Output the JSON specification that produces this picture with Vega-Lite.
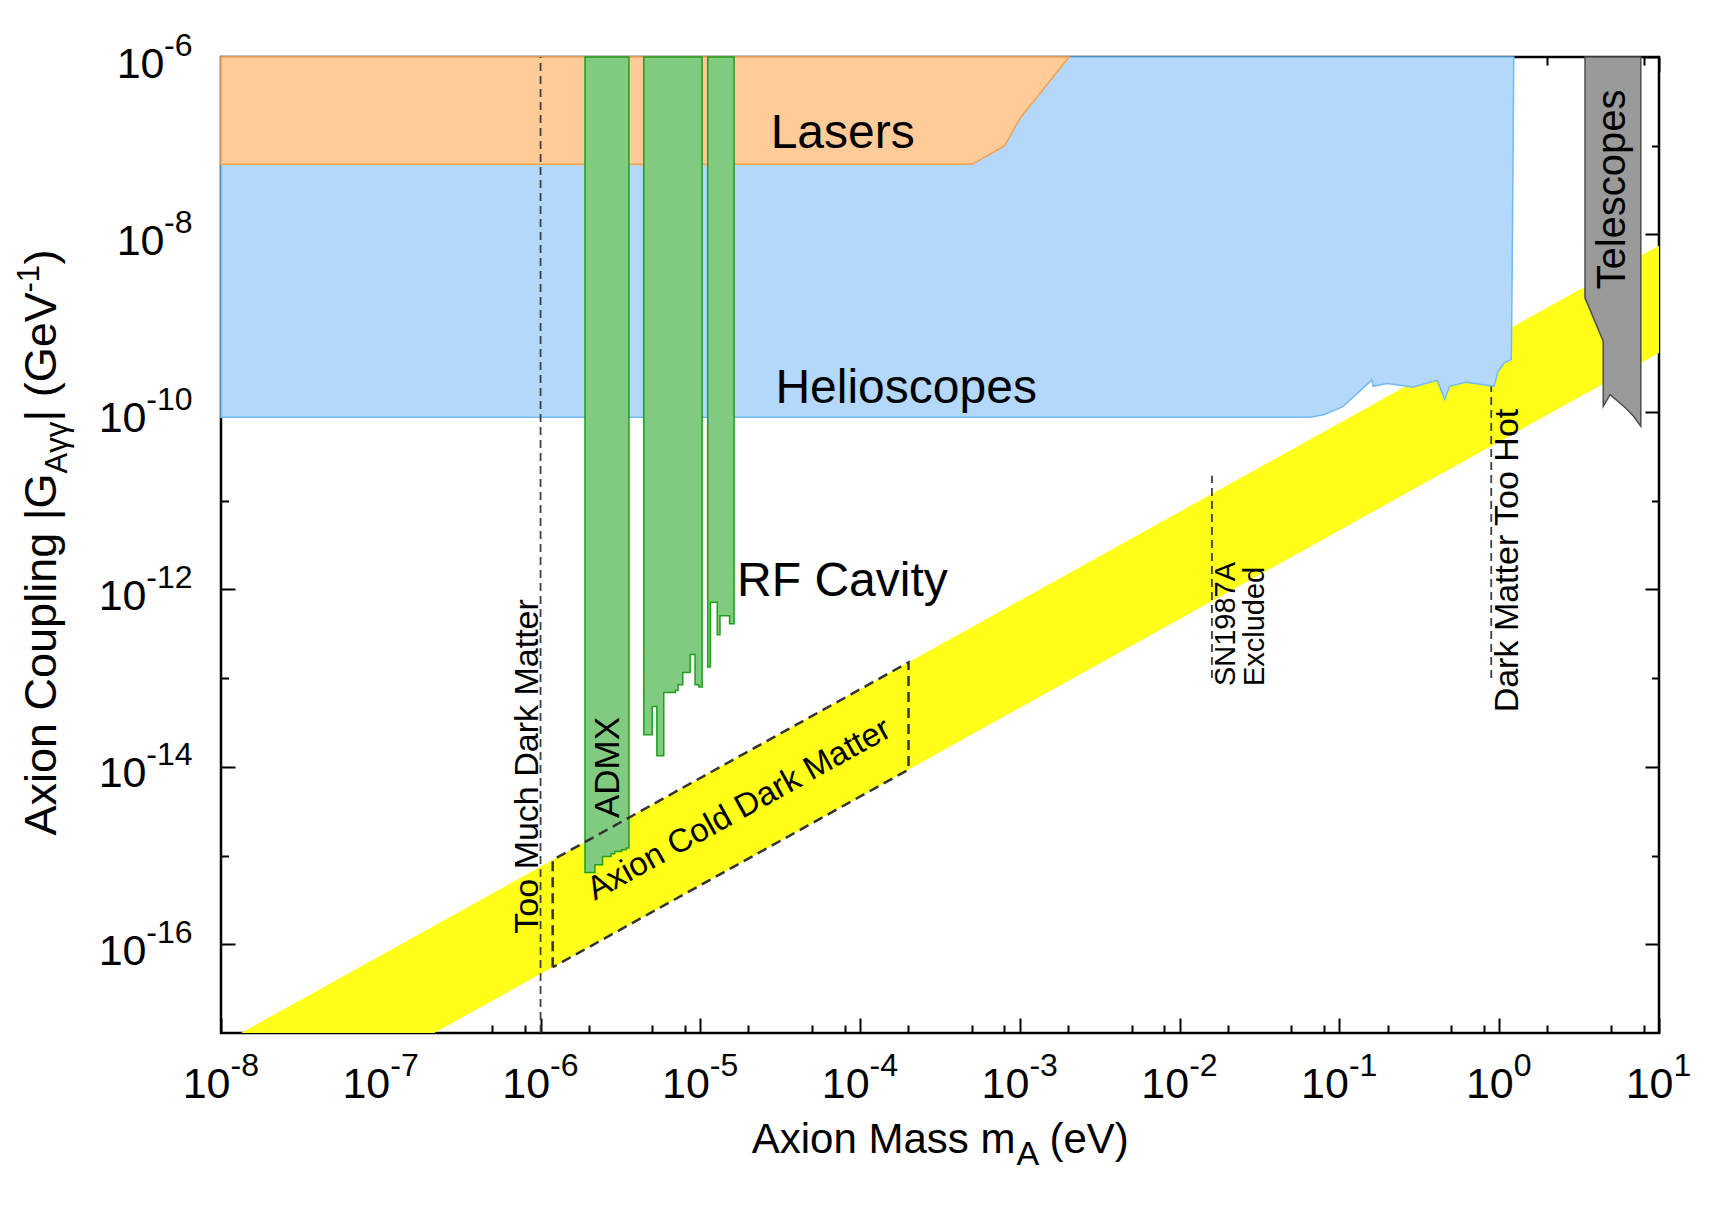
{
  "$schema": "https://vega.github.io/schema/vega-lite/v6.json",
  "width": 1438,
  "height": 976,
  "autosize": {"type": "none"},
  "padding": {"left": 221, "top": 57, "right": 75, "bottom": 179},
  "background": "white",
  "config": {
    "view": {"stroke": "black", "strokeWidth": 2.5},
    "font": "Liberation Sans",
    "axis": {
      "domain": false, "grid": false, "tickColor": "black", "tickWidth": 2,
      "labelColor": "black", "titleColor": "black", "labelFont": "Liberation Sans",
      "titleFont": "Liberation Sans", "titleFontWeight": "normal",
      "labelFlush": false, "labelOverlap": false, "labelBound": false
    }
  },
  "resolve": {"axis": {"x": "independent", "y": "independent"}},
  "layer": [
    {
      "data": {"values": [
        {"m": 1e-8, "lo": 4.624e-19, "hi": 7.482e-18},
        {"m": 10, "lo": 4.624e-10, "hi": 7.482e-9}
      ]},
      "mark": {"type": "area", "color": "#ffff1a", "opacity": 1, "clip": true},
      "encoding": {
        "x": {"field": "m", "type": "quantitative", "scale": {"type": "log", "domain": [1e-8, 10], "nice": false},
          "axis": {"orient": "bottom", "values": [1e-8,1e-7,1e-6,1e-5,1e-4,1e-3,0.01,0.1,1,10], "ticks": false,
            "labelExpr": "'10'", "labelFontSize": 43, "labelAlign": "right", "labelBaseline": "alphabetic",
            "labelPadding": 64,
            "labelOffset": {"condition": {"test": "datum.value > 0.5", "value": 14}, "value": 9},
            "title": "Axion Mass m", "titleFontSize": 42, "titleAlign": "right", "titleBaseline": "alphabetic",
            "titleX": 794, "titleY": 119}},
        "y": {"field": "lo", "type": "quantitative", "scale": {"type": "log", "domain": [1e-17, 1e-6], "nice": false},
          "axis": {"orient": "left", "values": [1e-16,1e-14,1e-12,1e-10,1e-8,1e-6], "ticks": false,
            "labelExpr": "'10'", "labelFontSize": 43, "labelAlign": "right", "labelBaseline": "alphabetic",
            "labelPadding": {"condition": {"test": "datum.value < 5e-10", "value": 75}, "value": 57},
            "labelOffset": 20,
            "title": "Axion Coupling |G", "titleFontSize": 45, "titleAngle": 270, "titleAlign": "left",
            "titleBaseline": "alphabetic", "titleX": -166, "titleY": 778}},
        "y2": {"field": "hi"}
      }
    },
    {
      "data": {"values": [
        {"m": 1e-8, "lo": 8.7e-11},
        {"m": 0.06561, "lo": 8.7e-11},
        {"m": 0.08035, "lo": 9.333e-11},
        {"m": 0.1045, "lo": 1.138e-10},
        {"m": 0.1524, "lo": 2.123e-10},
        {"m": 0.1589, "lo": 2.312e-10},
        {"m": 0.1626, "lo": 1.945e-10},
        {"m": 0.1982, "lo": 2.084e-10},
        {"m": 0.2897, "lo": 1.914e-10},
        {"m": 0.4093, "lo": 2.27e-10},
        {"m": 0.456, "lo": 1.377e-10},
        {"m": 0.4887, "lo": 1.945e-10},
        {"m": 0.618, "lo": 2.158e-10},
        {"m": 0.929, "lo": 1.945e-10},
        {"m": 0.984, "lo": 2.871e-10},
        {"m": 1.074, "lo": 3.565e-10},
        {"m": 1.191, "lo": 3.89e-10},
        {"m": 1.208, "lo": 6.252e-9},
        {"m": 1.233, "lo": 1e-6}
      ]},
      "mark": {"type": "area", "fill": "#b3d8fa", "stroke": "#73b9f5", "strokeWidth": 1.5, "opacity": 1},
      "encoding": {
        "x": {"field": "m", "type": "quantitative", "scale": {"type": "log", "domain": [1e-8, 10], "nice": false},
          "axis": {"orient": "bottom", "values": [1e-8,1e-7,1e-6,1e-5,1e-4,1e-3,0.01,0.1,1,10], "ticks": false,
            "labelExpr": "(datum.value < 1 ? '-' : '') + abs(round(log(datum.value) / LN10))",
            "labelFontSize": 32, "labelAlign": "left", "labelBaseline": "alphabetic",
            "labelPadding": 42,
            "labelOffset": {"condition": {"test": "datum.value > 0.5", "value": 14}, "value": 9},
            "title": "A", "titleFontSize": 34, "titleAlign": "left", "titleBaseline": "alphabetic",
            "titleX": 795, "titleY": 131}},
        "y": {"field": "lo", "type": "quantitative", "scale": {"type": "log", "domain": [1e-17, 1e-6], "nice": false},
          "axis": {"orient": "left", "values": [1e-16,1e-14,1e-12,1e-10,1e-8,1e-6], "ticks": false,
            "labelExpr": "(datum.value < 1 ? '-' : '') + abs(round(log(datum.value) / LN10))",
            "labelFontSize": 32, "labelAlign": "right", "labelBaseline": "alphabetic",
            "labelPadding": 29, "labelOffset": -2,
            "title": "Aγγ", "titleFontSize": 31, "titleAngle": 270, "titleAlign": "left",
            "titleBaseline": "alphabetic", "titleX": -155, "titleY": 416}},
        "y2": {"datum": 1e-6}
      }
    },
    {
      "data": {"values": [
        {"m": 1e-8, "lo": 6.166e-8},
        {"m": 5.012e-4, "lo": 6.166e-8},
        {"m": 7.98e-4, "lo": 9.863e-8},
        {"m": 1.007e-3, "lo": 2.061e-7},
        {"m": 2.03e-3, "lo": 1e-6}
      ]},
      "mark": {"type": "area", "fill": "#ffcc99", "stroke": "#f7a04b", "strokeWidth": 1.5, "opacity": 1},
      "encoding": {
        "x": {"field": "m", "type": "quantitative", "scale": {"type": "log", "domain": [1e-8, 10], "nice": false},
          "axis": {"orient": "bottom", "values": [1e-8,1e-7,1e-6,1e-5,1e-4,1e-3,0.01,0.1,1,10], "labels": false,
            "tickSize": -15, "title": "(eV)", "titleFontSize": 42, "titleAlign": "left", "titleBaseline": "alphabetic",
            "titleX": 828, "titleY": 119}},
        "y": {"field": "lo", "type": "quantitative", "scale": {"type": "log", "domain": [1e-17, 1e-6], "nice": false},
          "axis": {"orient": "left", "values": [1e-16,1e-14,1e-12,1e-10,1e-8,1e-6], "labels": false,
            "tickSize": -14, "title": "| (GeV", "titleFontSize": 45, "titleAngle": 270, "titleAlign": "left",
            "titleBaseline": "alphabetic", "titleX": -166, "titleY": 364}},
        "y2": {"datum": 1e-6}
      }
    },
    {
      "data": {"values": [
        {"col": 1, "m": 1.897e-6, "lo": 6.457e-16},
        {"col": 1, "m": 2.188e-6, "lo": 7.87e-16},
        {"col": 1, "m": 2.443e-6, "lo": 9.772e-16},
        {"col": 1, "m": 2.761e-6, "lo": 1.047e-15},
        {"col": 1, "m": 2.911e-6, "lo": 1.112e-15},
        {"col": 1, "m": 3.214e-6, "lo": 1.161e-15},
        {"col": 1, "m": 3.436e-6, "lo": 1.213e-15},
        {"col": 1, "m": 3.573e-6, "lo": 1.213e-15},
        {"col": 2, "m": 4.426e-6, "lo": 2.301e-14},
        {"col": 2, "m": 5.0e-6, "lo": 4.797e-14},
        {"col": 2, "m": 5.346e-6, "lo": 1.334e-14},
        {"col": 2, "m": 5.902e-6, "lo": 6.902e-14},
        {"col": 2, "m": 6.966e-6, "lo": 7.261e-14},
        {"col": 2, "m": 7.244e-6, "lo": 8.414e-14},
        {"col": 2, "m": 7.762e-6, "lo": 1.159e-13},
        {"col": 2, "m": 8.63e-6, "lo": 1.849e-13},
        {"col": 2, "m": 9.268e-6, "lo": 8.414e-14},
        {"col": 2, "m": 9.795e-6, "lo": 7.925e-14},
        {"col": 2, "m": 1.026e-5, "lo": 7.925e-14},
        {"col": 3, "m": 1.112e-5, "lo": 1.337e-13},
        {"col": 3, "m": 1.156e-5, "lo": 7.145e-13},
        {"col": 3, "m": 1.276e-5, "lo": 3.083e-13},
        {"col": 3, "m": 1.327e-5, "lo": 5.047e-13},
        {"col": 3, "m": 1.524e-5, "lo": 4.102e-13},
        {"col": 3, "m": 1.626e-5, "lo": 4.102e-13}
      ]},
      "mark": {"type": "area", "interpolate": "step-after", "fill": "#80cb80", "stroke": "#1f9e1f", "strokeWidth": 1.5, "opacity": 1},
      "encoding": {
        "x": {"field": "m", "type": "quantitative", "scale": {"type": "log", "domain": [1e-8, 10], "nice": false},
          "axis": {"orient": "bottom", "values": [2e-8,5e-8,8e-8,2e-7,5e-7,8e-7,2e-6,5e-6,8e-6,2e-5,5e-5,8e-5,2e-4,5e-4,8e-4,0.002,0.005,0.008,0.02,0.05,0.08,0.2,0.5,0.8,2,5,8],
            "labels": false, "tickSize": -8, "title": null}},
        "y": {"field": "lo", "type": "quantitative", "scale": {"type": "log", "domain": [1e-17, 1e-6], "nice": false},
          "axis": {"orient": "left", "values": [1e-15,1e-13,1e-11,1e-9,1e-7], "labels": false,
            "tickSize": -7.5, "title": "-1", "titleFontSize": 31, "titleAngle": 270, "titleAlign": "left",
            "titleBaseline": "alphabetic", "titleX": -183, "titleY": 235}},
        "y2": {"datum": 1e-6},
        "detail": {"field": "col", "type": "nominal"}
      }
    },
    {
      "data": {"values": [
        {"m": 3.443, "lo": 1.928e-9},
        {"m": 4.477, "lo": 6.252e-10},
        {"m": 4.478, "lo": 1.156e-10},
        {"m": 4.943, "lo": 1.567e-10},
        {"m": 6.18, "lo": 1.109e-10},
        {"m": 6.934, "lo": 8.913e-11},
        {"m": 7.691, "lo": 6.918e-11}
      ]},
      "mark": {"type": "area", "fill": "#9a9a9a", "stroke": "#4d4d4d", "strokeWidth": 1.5, "opacity": 1},
      "encoding": {
        "x": {"field": "m", "type": "quantitative", "scale": {"type": "log", "domain": [1e-8, 10], "nice": false},
          "axis": {"orient": "top", "values": [1e-8,1e-7,1e-6,1e-5,1e-4,1e-3,0.01,0.1,1,10], "labels": false,
            "tickSize": -15, "title": null}},
        "y": {"field": "lo", "type": "quantitative", "scale": {"type": "log", "domain": [1e-17, 1e-6], "nice": false},
          "axis": {"orient": "left", "values": [1e-16], "labels": false, "ticks": false,
            "title": ")", "titleFontSize": 45, "titleAngle": 270, "titleAlign": "left",
            "titleBaseline": "alphabetic", "titleX": -166, "titleY": 207}},
        "y2": {"datum": 1e-6}
      }
    },
    {
      "data": {"values": [
        {"k": 1, "m": 1.191e-6, "g": 5.508e-17},
        {"k": 2, "m": 1.191e-6, "g": 8.913e-16},
        {"k": 3, "m": 2.009e-4, "g": 1.503e-13},
        {"k": 4, "m": 2.009e-4, "g": 9.29e-15},
        {"k": 5, "m": 1.191e-6, "g": 5.508e-17}
      ]},
      "mark": {"type": "line", "color": "#333333", "strokeWidth": 2.5, "strokeDash": [10, 6]},
      "encoding": {
        "x": {"field": "m", "type": "quantitative", "scale": {"type": "log", "domain": [1e-8, 10], "nice": false},
          "axis": {"orient": "top", "values": [2e-8,5e-8,8e-8,2e-7,5e-7,8e-7,2e-6,5e-6,8e-6,2e-5,5e-5,8e-5,2e-4,5e-4,8e-4,0.002,0.005,0.008,0.02,0.05,0.08,0.2,0.5,0.8,2,5,8],
            "labels": false, "tickSize": -8, "title": null}},
        "y": {"field": "g", "type": "quantitative", "scale": {"type": "log", "domain": [1e-17, 1e-6], "nice": false},
          "axis": {"orient": "right", "values": [1e-16,1e-14,1e-12,1e-10,1e-8,1e-6], "labels": false,
            "tickSize": -14, "title": null}},
        "order": {"field": "k", "type": "quantitative"}
      }
    },
    {
      "data": {"values": [
        {"m": 1e-6, "g1": 1e-17, "g2": 1e-6},
        {"m": 0.01592, "g1": 1e-13, "g2": 1.905e-11},
        {"m": 0.8913, "g1": 1e-13, "g2": 1.95e-10}
      ]},
      "mark": {"type": "rule", "color": "#404040", "strokeWidth": 1.8, "strokeDash": [8, 5]},
      "encoding": {
        "x": {"field": "m", "type": "quantitative", "scale": {"type": "log", "domain": [1e-8, 10], "nice": false}, "axis": null},
        "y": {"field": "g1", "type": "quantitative", "scale": {"type": "log", "domain": [1e-17, 1e-6], "nice": false},
          "axis": {"orient": "right", "values": [1e-15,1e-13,1e-11,1e-9,1e-7], "labels": false,
            "tickSize": -7.5, "title": null}},
        "y2": {"field": "g2"}
      }
    },
    {
      "data": {"values": [
        {"label": "Lasers", "m": 2.754e-5, "g": 9.55e-8},
        {"label": "Helioscopes", "m": 2.951e-5, "g": 1.259e-10},
        {"label": "RF Cavity", "m": 1.698e-5, "g": 8.318e-13}
      ]},
      "mark": {"type": "text", "align": "left", "baseline": "alphabetic", "fontSize": 48, "color": "black", "font": "Liberation Sans"},
      "encoding": {
        "x": {"field": "m", "type": "quantitative", "scale": {"type": "log", "domain": [1e-8, 10], "nice": false}, "axis": null},
        "y": {"field": "g", "type": "quantitative", "scale": {"type": "log", "domain": [1e-17, 1e-6], "nice": false}, "axis": null},
        "text": {"field": "label"}
      }
    },
    {
      "data": {"values": [{"label": "ADMX", "m": 3.112e-6, "g": 2.649e-15}]},
      "mark": {"type": "text", "align": "left", "baseline": "alphabetic", "angle": 270, "fontSize": 35, "color": "black", "font": "Liberation Sans"},
      "encoding": {
        "x": {"field": "m", "type": "quantitative", "scale": {"type": "log", "domain": [1e-8, 10], "nice": false}, "axis": null},
        "y": {"field": "g", "type": "quantitative", "scale": {"type": "log", "domain": [1e-17, 1e-6], "nice": false}, "axis": null},
        "text": {"field": "label"}
      }
    },
    {
      "data": {"values": [{"label": "Telescopes", "m": 6.166, "g": 2.393e-9}]},
      "mark": {"type": "text", "align": "left", "baseline": "alphabetic", "angle": 270, "fontSize": 40, "color": "black", "font": "Liberation Sans"},
      "encoding": {
        "x": {"field": "m", "type": "quantitative", "scale": {"type": "log", "domain": [1e-8, 10], "nice": false}, "axis": null},
        "y": {"field": "g", "type": "quantitative", "scale": {"type": "log", "domain": [1e-17, 1e-6], "nice": false}, "axis": null},
        "text": {"field": "label"}
      }
    },
    {
      "data": {"values": [{"label": "Too Much Dark Matter", "m": 9.638e-7, "g": 1.318e-16}]},
      "mark": {"type": "text", "align": "left", "baseline": "alphabetic", "angle": 270, "fontSize": 34, "color": "black", "font": "Liberation Sans"},
      "encoding": {
        "x": {"field": "m", "type": "quantitative", "scale": {"type": "log", "domain": [1e-8, 10], "nice": false}, "axis": null},
        "y": {"field": "g", "type": "quantitative", "scale": {"type": "log", "domain": [1e-17, 1e-6], "nice": false}, "axis": null},
        "text": {"field": "label"}
      }
    },
    {
      "data": {"values": [{"label": "Dark Matter Too Hot", "m": 0.8913, "g": 4.111e-14}]},
      "mark": {"type": "text", "align": "left", "baseline": "top", "angle": 270, "fontSize": 34, "color": "black", "font": "Liberation Sans"},
      "encoding": {
        "x": {"field": "m", "type": "quantitative", "scale": {"type": "log", "domain": [1e-8, 10], "nice": false}, "axis": null},
        "y": {"field": "g", "type": "quantitative", "scale": {"type": "log", "domain": [1e-17, 1e-6], "nice": false}, "axis": null},
        "text": {"field": "label"}
      }
    },
    {
      "data": {"values": [{"label": "SN1987A\nExcluded", "m": 0.01592, "g": 8.128e-14}]},
      "mark": {"type": "text", "align": "left", "baseline": "top", "angle": 270, "fontSize": 29, "lineHeight": 29, "lineBreak": "\n", "color": "black", "font": "Liberation Sans"},
      "encoding": {
        "x": {"field": "m", "type": "quantitative", "scale": {"type": "log", "domain": [1e-8, 10], "nice": false}, "axis": null},
        "y": {"field": "g", "type": "quantitative", "scale": {"type": "log", "domain": [1e-17, 1e-6], "nice": false}, "axis": null},
        "text": {"field": "label"}
      }
    },
    {
      "data": {"values": [{"label": "Axion Cold Dark Matter", "m": 1.875e-5, "g": 2.642e-15}]},
      "mark": {"type": "text", "align": "center", "baseline": "alphabetic", "angle": -29, "fontSize": 33, "color": "black", "font": "Liberation Sans"},
      "encoding": {
        "x": {"field": "m", "type": "quantitative", "scale": {"type": "log", "domain": [1e-8, 10], "nice": false}, "axis": null},
        "y": {"field": "g", "type": "quantitative", "scale": {"type": "log", "domain": [1e-17, 1e-6], "nice": false}, "axis": null},
        "text": {"field": "label"}
      }
    }
  ]
}
